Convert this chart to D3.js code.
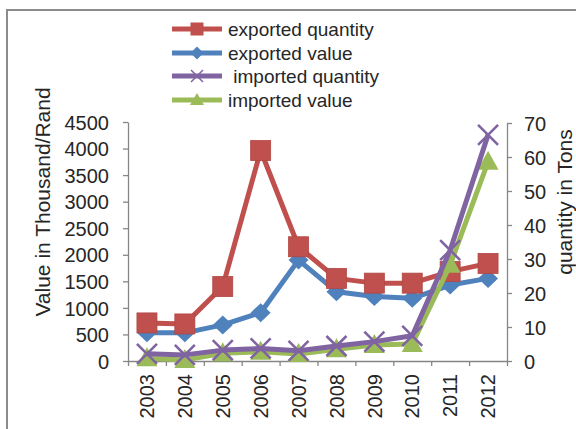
<!DOCTYPE html>
<html><head><meta charset="utf-8">
<script src="https://cdn.jsdelivr.net/npm/d3@7"></script>
<style>
body{margin:0;background:#fff;}
text{font-family:"Liberation Sans",Arial,sans-serif;fill:#262626;}
</style></head>
<body><svg id="c" width="576" height="429"></svg>
<script>
const years = ["2003","2004","2005","2006","2007","2008","2009","2010","2011","2012"];
const exportedQuantity = [11.2, 10.9, 21.9, 61.9, 33.6, 24.3, 22.9, 22.9, 26.3, 28.7];
const exportedValue = [530, 530, 680, 910, 1900, 1305, 1215, 1180, 1430, 1555];
const importedQuantity = [2.1, 1.8, 3.2, 3.7, 3.0, 4.4, 5.7, 7.4, 32.6, 66.5];
const importedValue = [50, 20, 145, 175, 130, 220, 300, 320, 1810, 3750];
const leftTicks = [0,500,1000,1500,2000,2500,3000,3500,4000,4500];
const rightTicks = [0,10,20,30,40,50,60,70];

const svg = d3.select("#c");
const L = 128, R = 507, T = 122, B = 361;
const x = d3.scaleBand().domain(years).range([L, R]);
const xi = d3.scaleLinear().domain([0, years.length]).range([L, R]);
const yL = d3.scaleLinear().domain([0, 4500]).range([B, T]);
const yR = d3.scaleLinear().domain([0, 70]).range([B, T + 1]);
const axisColor = "#868686";
const txtColor = "#262626";

// frame
svg.append("path").attr("d", "M7,429 L7,10 L576,10").attr("fill","none")
  .attr("stroke", "#8c8c8c").attr("stroke-width", 2);

function styleAxis(g){
  g.select(".domain").attr("stroke", axisColor).attr("stroke-width", 1.3);
  g.selectAll(".tick line").attr("stroke", axisColor).attr("stroke-width", 1.3);
  g.selectAll("text").style("font-family", '"Liberation Sans",Arial,sans-serif')
    .style("font-size", "20px").attr("fill", txtColor);
}

const gl = svg.append("g").attr("transform", `translate(${L},0)`)
  .call(d3.axisLeft(yL).tickValues(leftTicks).tickFormat(d3.format("d")).tickSize(5).tickPadding(14).tickSizeOuter(0));
styleAxis(gl);
gl.selectAll(".tick text").attr("dy", "0.36em");

const gr = svg.append("g").attr("transform", `translate(${R},0)`)
  .call(d3.axisRight(yR).tickValues(rightTicks).tickFormat(d3.format("d")).tickSize(5).tickPadding(12).tickSizeOuter(0));
styleAxis(gr);
gr.selectAll(".tick text").attr("dy", "0.36em");

const gbt = svg.append("g").attr("transform", `translate(0,${B})`)
  .call(d3.axisBottom(xi).tickValues(d3.range(0, years.length + 1)).tickFormat("").tickSize(5).tickSizeOuter(0));
styleAxis(gbt);

const gb = svg.append("g").attr("transform", `translate(0,${B})`)
  .call(d3.axisBottom(x).tickSize(0).tickPadding(0));
gb.select(".domain").remove();
gb.selectAll(".tick text")
  .style("font-family", '"Liberation Sans",Arial,sans-serif').style("font-size", "20px")
  .attr("fill", txtColor)
  .attr("text-anchor", "end").attr("transform", "rotate(-90)")
  .attr("x", -13).attr("y", 0).attr("dy", "0.36em").attr("dx", 0);

// axis titles
svg.append("text").attr("transform", `translate(50,202) rotate(-90)`)
  .attr("text-anchor", "middle").style("font-size", "21px").text("Value in Thousand/Rand");
svg.append("text").attr("transform", `translate(572,202) rotate(-90)`)
  .attr("text-anchor", "middle").style("font-size", "21px").text("quantity in Tons");

const series = [
  {name:"exported value", data:exportedValue, y:yL, color:"#4F81BD", marker:"diamond"},
  {name:"exported quantity", data:exportedQuantity, y:yR, color:"#C0504D", marker:"square"},
  {name:"imported value", data:importedValue, y:yL, color:"#9BBB59", marker:"triangle"},
  {name:" imported quantity", data:importedQuantity, y:yR, color:"#8064A2", marker:"x"}
];

function drawMarker(g, type, cx, cy, color){
  if (type === "square") {
    g.append("rect").attr("x", cx-10).attr("y", cy-10).attr("width", 20).attr("height", 20)
      .attr("fill", color).attr("stroke", "#b04643").attr("stroke-width", 0.8);
  } else if (type === "diamond") {
    g.append("path").attr("d", `M${cx},${cy-9.5} L${cx+10},${cy} L${cx},${cy+9.5} L${cx-10},${cy} Z`)
      .attr("fill", color);
  } else if (type === "triangle") {
    g.append("path").attr("d", `M${cx},${cy-11} L${cx+10.5},${cy+8} L${cx-10.5},${cy+8} Z`)
      .attr("fill", color);
  } else if (type === "x") {
    g.append("path").attr("d", `M${cx-10},${cy-10} L${cx+10},${cy+10} M${cx+10},${cy-10} L${cx-10},${cy+10}`)
      .attr("stroke", color).attr("stroke-width", 2.6).attr("fill", "none");
  }
}

const line = (ys) => d3.line().x((d, i) => x(years[i]) + x.bandwidth()/2).y(d => ys(d));
series.forEach(s => {
  const g = svg.append("g");
  g.append("path").datum(s.data).attr("d", line(s.y)).attr("fill", "none")
    .attr("stroke", s.color).attr("stroke-width", 5).attr("stroke-linejoin", "round");
  s.data.forEach((d, i) => drawMarker(g, s.marker, x(years[i]) + x.bandwidth()/2, s.y(d), s.color));
});

// legend
const legendOrder = [series[1], series[0], series[3], series[2]];
const legendY = [29, 53, 76, 100];
legendOrder.forEach((s, i) => {
  const g = svg.append("g");
  const yy = legendY[i];
  g.append("line").attr("x1", 172).attr("x2", 222).attr("y1", yy).attr("y2", yy)
    .attr("stroke", s.color).attr("stroke-width", 5);
  if (s.marker === "square") {
    g.append("rect").attr("x", 197-6.5).attr("y", yy-6.5).attr("width", 13).attr("height", 13).attr("fill", s.color);
  } else if (s.marker === "diamond") {
    g.append("path").attr("d", `M197,${yy-6.5} L203.5,${yy} L197,${yy+6.5} L190.5,${yy} Z`).attr("fill", s.color);
  } else if (s.marker === "triangle") {
    g.append("path").attr("d", `M197,${yy-7} L204,${yy+5} L190,${yy+5} Z`).attr("fill", s.color);
  } else {
    g.append("path").attr("d", `M191,${yy-6} L203,${yy+6} M203,${yy-6} L191,${yy+6}`)
      .attr("stroke", s.color).attr("stroke-width", 1.5);
  }
  g.append("text").attr("x", 228).attr("y", yy).attr("dy", "0.36em")
    .style("font-size", "19px").style("white-space", "pre").text(s.name);
});
</script></body></html>
